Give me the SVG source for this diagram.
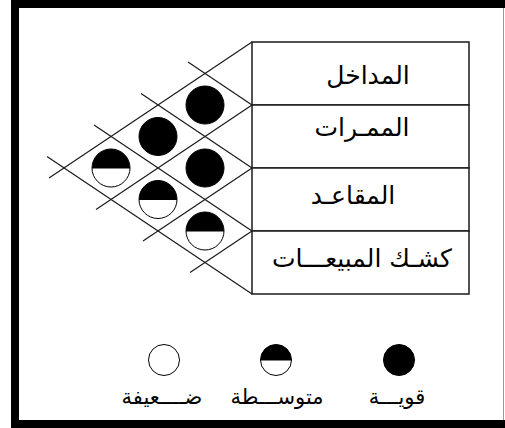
<svg xmlns="http://www.w3.org/2000/svg" width="505" height="428" viewBox="0 0 505 428">
<style>
.ln{stroke:#1a1a1a;stroke-width:1.2;fill:none}
.cell{stroke:#1a1a1a;stroke-width:1.5;fill:#fff}
.full{fill:#000;stroke:#000;stroke-width:1}
.empty{fill:#fff;stroke:#000;stroke-width:1}
.lbl{font-family:"DejaVu Sans",sans-serif;font-size:25px;fill:#000;text-anchor:middle}
.lg{font-family:"DejaVu Sans",sans-serif;font-size:21px;fill:#000;text-anchor:middle}
</style>
<defs>
<g id="half">
<circle r="19" class="empty"/>
<path d="M -19 0 A 19 19 0 0 1 19 0 Z" fill="#000"/>
<line x1="-19" y1="0" x2="19" y2="0" stroke="#000" stroke-width="1"/>
</g>
<g id="halfS">
<circle r="15.5" class="empty"/>
<path d="M -15.5 0 A 15.5 15.5 0 0 1 15.5 0 Z" fill="#000"/>
<line x1="-15.5" y1="0" x2="15.5" y2="0" stroke="#000" stroke-width="1"/>
</g>
</defs>
<rect width="505" height="428" fill="#fff"/>
<path d="M 509 4 H 15 V 424 H 509" fill="none" stroke="#000" stroke-width="8"/>
<line x1="503.5" y1="8" x2="503.5" y2="420" stroke="#999" stroke-width="1"/>

<g id="connectors">
<line class="ln" x1="252" y1="42" x2="49" y2="178.1"/>
<line class="ln" x1="252" y1="105" x2="96" y2="209.5"/>
<line class="ln" x1="252" y1="168" x2="143" y2="241"/>
<line class="ln" x1="252" y1="231" x2="190" y2="272.5"/>
<line class="ln" x1="252" y1="105" x2="188" y2="62.1"/>
<line class="ln" x1="252" y1="168" x2="141" y2="93.6"/>
<line class="ln" x1="252" y1="231" x2="94" y2="125.1"/>
<line class="ln" x1="252" y1="294" x2="47" y2="156.6"/>
</g>

<g id="table">
<rect class="cell" x="252" y="42" width="217" height="63"/>
<rect class="cell" x="252" y="105" width="217" height="63"/>
<rect class="cell" x="252" y="168" width="217" height="63"/>
<rect class="cell" x="252" y="231" width="217" height="63"/>
</g>
<g id="row-entrances"><text class="lbl" x="368" y="84">المداخل</text></g>
<g id="row-corridors"><text class="lbl" x="362" y="136">الممـرات</text></g>
<g id="row-seats"><text class="lbl" x="353" y="204">المقاعـد</text></g>
<g id="row-kiosk"><text class="lbl" x="362" y="267" font-size="20">كشـك المبيعـــات</text></g>

<g id="ratings">
<circle class="full" cx="205" cy="105" r="19"/>
<circle class="full" cx="158" cy="136.5" r="19"/>
<circle class="full" cx="205" cy="168" r="19"/>
<use href="#half" x="111" y="168"/>
<use href="#half" x="158" y="199.5"/>
<use href="#half" x="205" y="231"/>
</g>

<g id="legend-weak">
<circle class="empty" cx="164" cy="360" r="15.5"/>
<text class="lg" x="162" y="404">ضــــعيفة</text>
</g>
<g id="legend-medium">
<use href="#halfS" x="276" y="360"/>
<text class="lg" x="277" y="404">متوســـطة</text>
</g>
<g id="legend-strong">
<circle class="full" cx="399" cy="360" r="15.5"/>
<text class="lg" x="397" y="404">قويـــة</text>
</g>
</svg>
